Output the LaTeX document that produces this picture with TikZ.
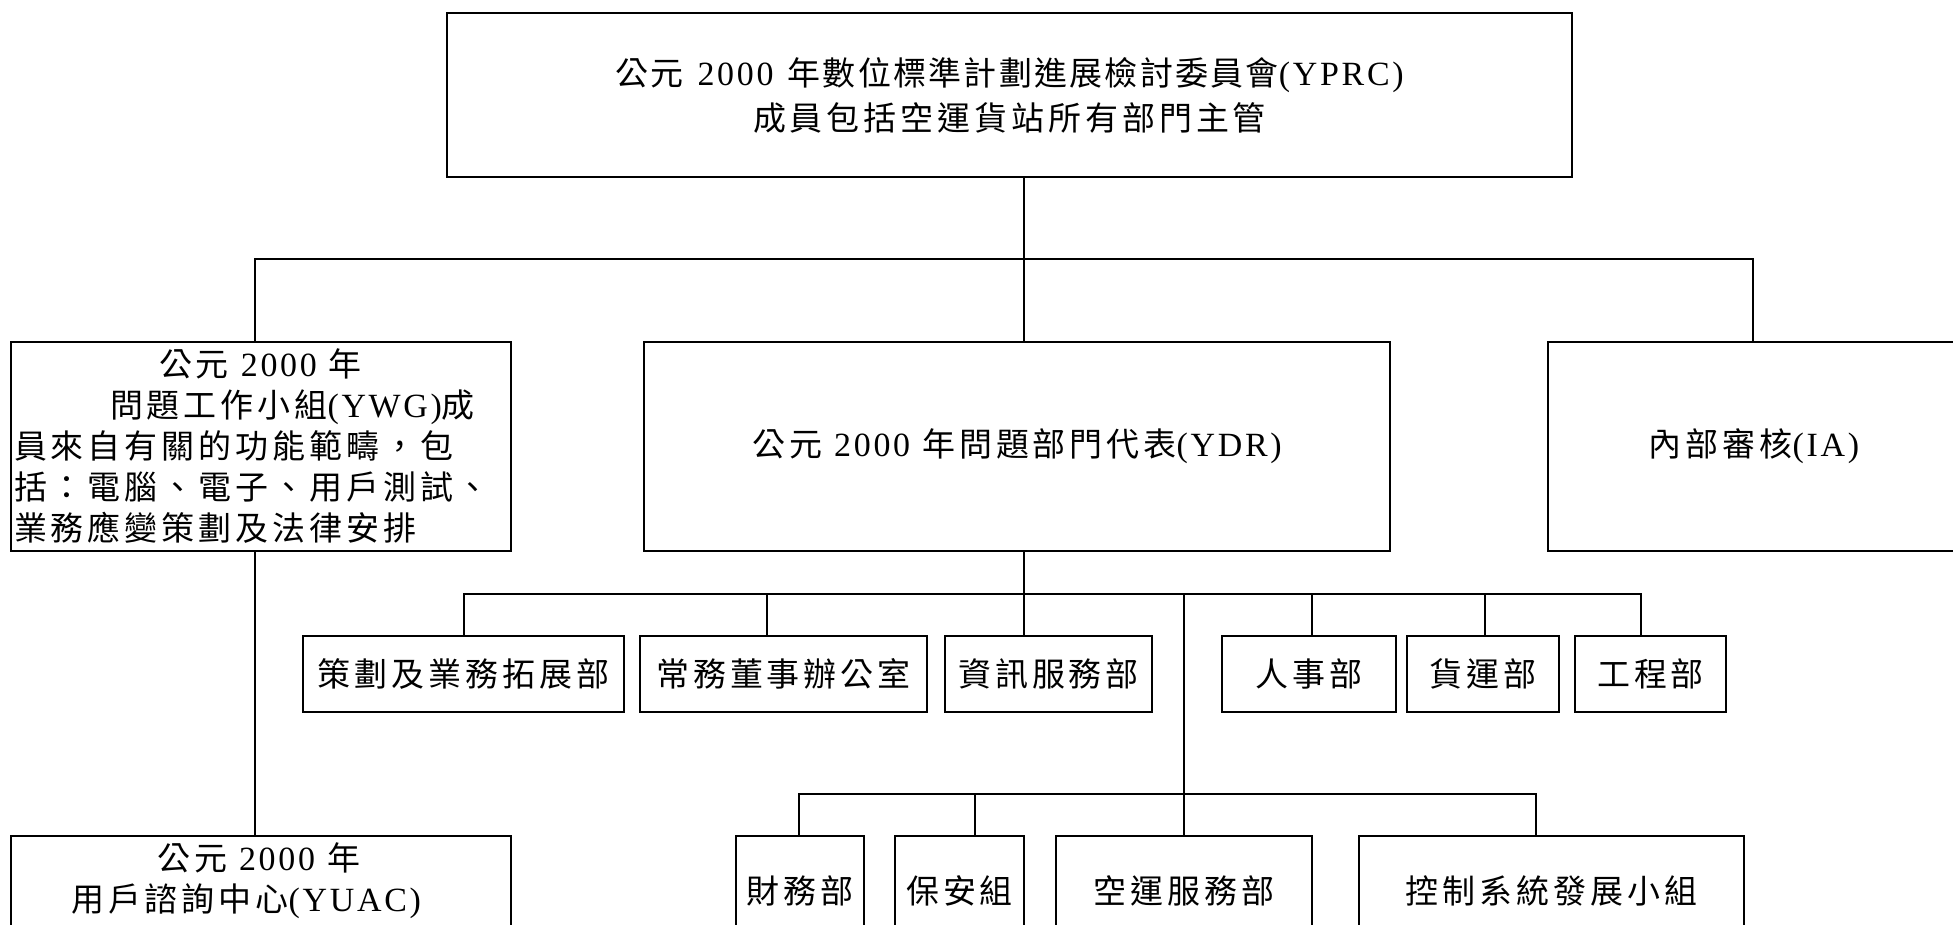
\documentclass[tikz,border=0pt]{standalone}
\usepackage{fontspec}
\setmainfont[Scale=1.06,LetterSpace=8]{Liberation Serif}
\newfontfamily\cjkA[Scale=1.03,LetterSpace=12]{Noto Sans CJK TC}
\newfontfamily\cjkC[Scale=1.03,LetterSpace=7]{Noto Sans CJK TC}
\newcommand\zh[1]{{\cjkA #1}}
\newcommand\zhn[1]{{\cjkC #1}}
\newcommand\gap{\hspace{12pt}}
\newcommand\wgap{\hspace{14pt}}
\begin{document}
\begin{tikzpicture}[x=1pt,y=-1pt,
  box/.style={draw, line width=2pt, inner sep=0pt, font=\fontsize{32}{41}\selectfont},
  txt/.style={inner sep=0pt, font=\fontsize{32}{41}\selectfont},
  conn/.style={line width=2pt}]
\useasboundingbox (0,0) rectangle (1953,925);
\fill[white] (0,0) rectangle (1953,925);
\clip (0,0) rectangle (1953,925);
% top
\node[box, minimum width=1125pt, minimum height=164pt, align=center, font=\fontsize{32}{45}\selectfont] (top) at (1009.5,95)
  {\zhn{公元}\wgap 2000\wgap\zhn{年數位標準計劃進展檢討委員會}(YPRC)\\\zh{成員包括空運貨站所有部門主管}};
% level 2
\node[box, minimum width=500pt, minimum height=209pt, text width=494pt, align=left] (ywg) at (261,446.5)
  {\hspace*{145pt}\zh{公元}\gap 2000\gap\zh{年}\\\hspace*{96pt}\zh{問題工作小組}(YWG)\zh{成}\\\zh{員來自有關的功能範疇，包}\\\zh{括：電腦、電子、用戶測試、}\\\zh{業務應變策劃及法律安排}};
\node[box, minimum width=746pt, minimum height=209pt] (ydr) at (1017,446.5) {\zh{公元}\gap 2000\gap\zh{年問題部門代表}(YDR)};
\node[box, minimum width=412pt, minimum height=209pt] (ia) at (1754,446.5) {\zh{內部審核}(IA)};
% row 1
\node[box, minimum width=321pt, minimum height=76pt] (b1) at (463.5,674) {\zh{策劃及業務拓展部}};
\node[box, minimum width=287pt, minimum height=76pt] (b2) at (783.5,674) {\zh{常務董事辦公室}};
\node[box, minimum width=207pt, minimum height=76pt] (b3) at (1048.5,674) {\zh{資訊服務部}};
\node[box, minimum width=174pt, minimum height=76pt] (b4) at (1309,674) {\zh{人事部}};
\node[box, minimum width=152pt, minimum height=76pt] (b5) at (1483,674) {\zh{貨運部}};
\node[box, minimum width=151pt, minimum height=76pt] (b6) at (1650.5,674) {\zh{工程部}};
% row 2
\node[box, minimum width=128pt, minimum height=109pt] (c1) at (800,890.5) {\zh{財務部}};
\node[box, minimum width=129pt, minimum height=109pt] (c2) at (959.5,890.5) {\zh{保安組}};
\node[box, minimum width=256pt, minimum height=109pt] (c3) at (1184,890.5) {\zh{空運服務部}};
\node[box, minimum width=385pt, minimum height=109pt] (c4) at (1551.5,890.5) {\zh{控制系統發展小組}};
% YUAC
\node[box, minimum width=500pt, minimum height=170pt] (yuac) at (261,921) {};
\node[txt, anchor=north west, align=left] (yuact) at (71,842) {\hspace*{86pt}\zh{公元}\gap 2000\gap\zh{年}\\\zh{用戶諮詢中心}(YUAC)};
% connectors level 1
\coordinate (t0) at (1024,259);
\coordinate (t1) at (255,259);
\coordinate (t3) at (1753,259);
\draw[conn] (top.south -| t0) -- (t0);
\draw[conn] (t1 |- ywg.north) -- (t1) -- (t3) -- (t3 |- ia.north);
\draw[conn] (t0) -- (t0 |- ydr.north);
\draw[conn] (ywg.south -| t1) -- (t1 |- yuac.north);
% connectors level 2
\coordinate (d0) at (1024,594);
\coordinate (d1) at (463.5,594);
\coordinate (d2) at (767,594);
\coordinate (d4) at (1312,594);
\coordinate (d5) at (1485,594);
\coordinate (d6) at (1641,594);
\draw[conn] (ydr.south -| d0) -- (d0);
\draw[conn] (d1 |- b1.north) -- (d1) -- (d6) -- (d6 |- b6.north);
\draw[conn] (d2) -- (d2 |- b2.north);
\draw[conn] (d0) -- (d0 |- b3.north);
\draw[conn] (d4) -- (d4 |- b4.north);
\draw[conn] (d5) -- (d5 |- b5.north);
% connectors level 3
\coordinate (e0) at (1184,594);
\coordinate (e1) at (799,794);
\coordinate (e2) at (975,794);
\coordinate (e3) at (1184,794);
\coordinate (e4) at (1536,794);
\draw[conn] (e0) -- (e3) -- (e3 |- c3.north);
\draw[conn] (e1 |- c1.north) -- (e1) -- (e4) -- (e4 |- c4.north);
\draw[conn] (e2) -- (e2 |- c2.north);
\end{tikzpicture}
\end{document}
